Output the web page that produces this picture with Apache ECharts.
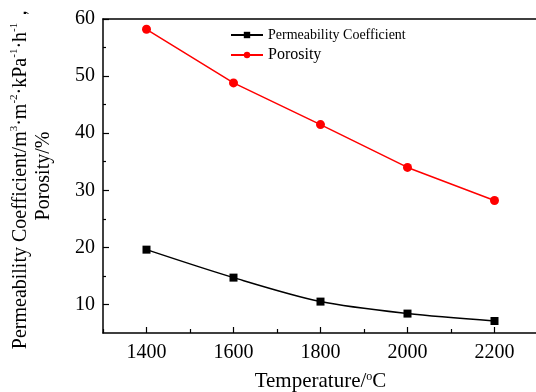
<!DOCTYPE html>
<html>
<head>
<meta charset="utf-8">
<script src="https://cdn.jsdelivr.net/npm/echarts@6/dist/echarts.min.js"></script>
<style>
    html, body { margin: 0; padding: 0; background: #fff; }
    #chart { width: 536px; height: 392px; }
</style>
</head>
<body>
<div id="chart"></div>
<script>
    // data
    var temperature = [1400, 1600, 1800, 2000, 2200];
    var permeability = [19.6, 14.7, 10.5, 8.4, 7.1];
    var porosity = [58.2, 48.8, 41.5, 34.0, 28.2];
    var xMajor = [1400, 1600, 1800, 2000, 2200];
    var xMinor = [1300, 1500, 1700, 1900, 2100, 2300];
    var yMajor = [10, 20, 30, 40, 50, 60];
    var yMinor = [15, 25, 35, 45, 55];

    var font = 'Liberation Serif';
    function pairs(ys) {
        return temperature.map(function (t, i) { return [t, ys[i]]; });
    }

    var chart = echarts.init(document.getElementById('chart'));
    var option = {
        animation: false,
        textStyle: { fontFamily: font, color: '#000' },
        grid: { left: 103, top: 19, bottom: 59, right: -2, outerBoundsMode: 'none' },
        legend: {
            left: 225, top: 23,
            orient: 'vertical',
            itemWidth: 32, itemHeight: 8, itemGap: 5,
            data: [
                { name: 'Permeability Coefficient', textStyle: { fontSize: 14 } },
                { name: 'Porosity', textStyle: { fontSize: 16 } }
            ],
            textStyle: { fontFamily: font, color: '#000' }
        },
        xAxis: [
            {
                type: 'value', position: 'bottom', min: 1300, max: 2300,
                splitLine: { show: false },
                axisLine: { lineStyle: { color: '#000', width: 1.5 } },
                axisTick: { inside: true, length: 6, customValues: xMajor, lineStyle: { color: '#000', width: 1.2 } },
                axisLabel: {
                    customValues: xMajor, fontFamily: font, fontSize: 20, color: '#000', margin: 10,
                    formatter: function (v) { return String(v); }
                },
                name: 'Temperature/{s|o}C',
                nameLocation: 'middle', nameGap: 38,
                nameTextStyle: {
                    fontFamily: font, fontSize: 21, color: '#000',
                    rich: { s: { fontFamily: font, fontSize: 12, verticalAlign: 'top', padding: [0, 0, 9, 0] } }
                }
            },
            {
                type: 'value', position: 'bottom', min: 1300, max: 2300,
                splitLine: { show: false },
                axisLine: { show: false },
                axisTick: { inside: true, length: 4, customValues: xMinor, lineStyle: { color: '#000', width: 1.2 } },
                axisLabel: { show: false }
            },
            {
                type: 'value', position: 'top', min: 1300, max: 2300,
                splitLine: { show: false },
                axisLine: { lineStyle: { color: '#000', width: 1.5 } },
                axisTick: { show: false },
                axisLabel: { show: false }
            }
        ],
        yAxis: [
            {
                type: 'value', position: 'left', min: 5, max: 60,
                splitLine: { show: false },
                axisLine: { lineStyle: { color: '#000', width: 1.5 } },
                axisTick: { inside: true, length: 6, customValues: yMajor, lineStyle: { color: '#000', width: 1.2 } },
                axisLabel: { customValues: yMajor, fontFamily: font, fontSize: 20, color: '#000', margin: 8 },
                name: '{t|Permeability Coefficient/m}{s|3}{t|·m}{s|-2}{t|·kPa}{s|-1}{t|·h}{s|-1}{t|，}\n{t|Porosity/%}',
                nameLocation: 'middle', nameRotate: 90, nameGap: 48,
                nameTextStyle: {
                    fontFamily: font, fontSize: 20, color: '#000', lineHeight: 23,
                    rich: {
                        t: { fontFamily: font, fontSize: 20, color: '#000', lineHeight: 23 },
                        s: { fontFamily: font, fontSize: 11, color: '#000', verticalAlign: 'top', lineHeight: 23, padding: [0, 0, 8, 0] }
                    }
                }
            },
            {
                type: 'value', position: 'left', min: 5, max: 60,
                splitLine: { show: false },
                axisLine: { show: false },
                axisTick: { inside: true, length: 3, customValues: yMinor, lineStyle: { color: '#000', width: 1.2 } },
                axisLabel: { show: false }
            }
        ],
        series: [
            {
                name: 'Permeability Coefficient',
                type: 'line',
                smooth: 0.3,
                data: pairs(permeability),
                symbol: 'rect', symbolSize: 8,
                lineStyle: { color: '#000', width: 1.5 },
                itemStyle: { color: '#000' }
            },
            {
                name: 'Porosity',
                type: 'line',
                data: pairs(porosity),
                symbol: 'circle', symbolSize: 9,
                lineStyle: { color: '#ff0000', width: 1.5 },
                itemStyle: { color: '#ff0000' }
            }
        ]
    };
    chart.setOption(option);
</script>
</body>
</html>
